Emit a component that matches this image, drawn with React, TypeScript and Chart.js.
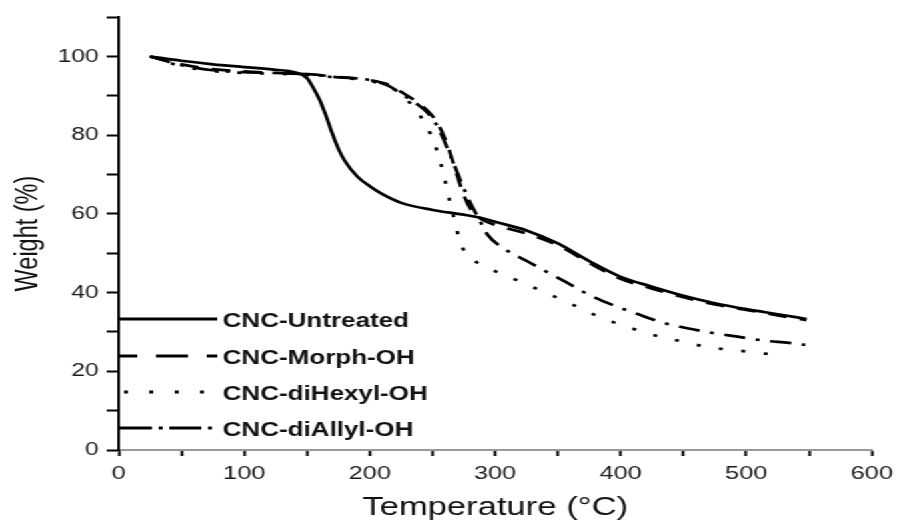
import React, { useEffect, useRef } from "react";
import { Chart, registerables } from "chart.js";

Chart.register(...registerables);

// ---- data (temperature °C, weight %) ----
const untreatedT = [25, 50, 75, 100, 125, 140, 150, 155, 160, 165, 170, 175, 180, 190, 200, 210, 225, 250, 275, 290, 300, 325, 350, 375, 400, 425, 450, 475, 500, 525, 548];
const untreatedW = [100, 98.9, 98, 97.3, 96.6, 96, 94.5, 92, 89, 85, 80.5, 76.5, 73.5, 69.5, 67, 65, 62.8, 61, 59.8, 58.9, 58, 55.8, 52.5, 48, 44, 41.5, 39.2, 37.3, 35.8, 34.5, 33.3];

const morphT = [25, 50, 75, 100, 125, 150, 175, 200, 215, 225, 235, 245, 252, 258, 264, 270, 276, 282, 290, 300, 325, 350, 375, 400, 425, 450, 475, 500, 525, 548];
const morphW = [100, 98, 96.8, 96.2, 95.8, 95.5, 94.8, 94, 92.8, 91, 89, 86.5, 84, 80.5, 75.5, 69.5, 64, 60.5, 58.5, 57.2, 55, 52, 47.5, 43.5, 41, 38.8, 37, 35.6, 34.2, 33];

const dihexylT = [25, 50, 75, 100, 125, 150, 175, 200, 215, 225, 235, 242, 248, 253, 258, 262, 265, 268, 271, 276, 283, 291, 308, 325, 343, 360, 376, 394, 413, 431, 450, 470, 490, 509, 529];
const dihexylW = [100, 97.5, 96.3, 95.8, 95.6, 95.3, 94.6, 93.8, 92.2, 90.5, 87, 84, 80.5, 76.5, 71, 65.5, 61.5, 58, 54, 50.3, 48.2, 46.7, 44.4, 42.1, 39.6, 37.2, 34.8, 32.5, 30.5, 28.8, 27.5, 26.1, 25.4, 24.7, 24];

const diallylT = [25, 50, 75, 100, 125, 150, 175, 200, 215, 225, 235, 245, 252, 258, 263, 268, 273, 281, 287, 294, 308, 326, 342, 358, 375, 394, 413, 432, 452, 472, 493, 514, 534, 547];
const diallylW = [100, 97.8, 96.5, 96, 95.8, 95.5, 94.7, 94, 92.5, 90.5, 88.5, 86, 83.2, 79.5, 75.7, 72, 68, 62.3, 58.8, 54.7, 51, 47.9, 45.1, 42.4, 39.4, 36.8, 34.6, 32.5, 31, 29.8, 28.8, 27.8, 27.2, 26.7];

const seriesLabels = ["CNC-Untreated", "CNC-Morph-OH", "CNC-diHexyl-OH", "CNC-diAllyl-OH"];

const xMin = 0;
const xMax = 600;
const yMin = 0;
const yMax = 110;

const pts = (t: number[], w: number[]) => t.map((v, i) => ({ x: v, y: w[i] }));

const FONT = '"Liberation Sans", Arial, Helvetica, sans-serif';
const CANVAS_W = 676;
const CANVAS_H = 522;
const STRETCH = 901 / CANVAS_W;

const legendStyles = [
  { dash: [] as number[], offset: 0, fromBottom: 131 },
  { dash: [24, 14], offset: 11, fromBottom: 94 },
  { dash: [3, 16], offset: 16, fromBottom: 58 },
  { dash: [24, 5, 3, 5], offset: 0, fromBottom: 22 },
];

const insideLegend = {
  id: "insideLegend",
  afterDatasetsDraw(chart: any) {
    const { ctx, chartArea } = chart;
    ctx.save();
    chart.data.datasets.forEach((ds: any, i: number) => {
      const st = legendStyles[i];
      const y = chartArea.bottom - st.fromBottom;
      ctx.strokeStyle = "#000";
      ctx.lineWidth = 2.8;
      ctx.lineCap = "butt";
      ctx.setLineDash(st.dash);
      ctx.lineDashOffset = st.offset;
      ctx.beginPath();
      ctx.moveTo(chartArea.left + 1, y);
      ctx.lineTo(chartArea.left + 74, y);
      ctx.stroke();
      ctx.setLineDash([]);
      ctx.font = `bold 19.5px ${FONT}`;
      ctx.textBaseline = "middle";
      ctx.textAlign = "left";
      ctx.fillStyle = "#111";
      ctx.fillText(ds.label, chartArea.left + 78, y + 3);
    });
    ctx.restore();
  },
};

export default function App() {
  const ref = useRef<HTMLCanvasElement | null>(null);

  useEffect(() => {
    if (!ref.current) return;
    const common = {
      borderColor: "#000",
      borderWidth: 2.7,
      pointRadius: 0,
      fill: false,
      cubicInterpolationMode: "monotone" as const,
    };
    const chart = new Chart(ref.current, {
      type: "line",
      data: {
        datasets: [
          { ...common, label: seriesLabels[0], data: pts(untreatedT, untreatedW), borderDash: [] },
          { ...common, label: seriesLabels[1], data: pts(morphT, morphW), borderDash: [14, 10] },
          { ...common, label: seriesLabels[2], data: pts(dihexylT, dihexylW), borderDash: [3, 14] },
          { ...common, label: seriesLabels[3], data: pts(diallylT, diallylW), borderDash: [16, 8, 3, 8] },
        ],
      },
      options: {
        animation: false,
        responsive: true,
        maintainAspectRatio: false,
        layout: { padding: { left: 0, right: 20, top: 14, bottom: 0 } },
        plugins: { legend: { display: false }, tooltip: { enabled: false } },
        scales: {
          x: {
            type: "linear",
            min: xMin,
            max: xMax,
            afterFit: (s: any) => { s.height = 72; },
            ticks: {
              stepSize: 50,
              autoSkip: false,
              maxRotation: 0,
              padding: 6,
              color: "#1a1a1a",
              font: { family: FONT, size: 19 },
              callback: (v: any) => (Number(v) % 100 === 0 ? String(v) : ""),
            },
            grid: { drawOnChartArea: false, drawTicks: true, tickLength: 6, tickColor: "#000", tickWidth: 2 },
            border: { display: true, color: "#9a9a9a", width: 2 },
            title: { display: true, text: "Temperature (°C)", color: "#111", font: { family: FONT, size: 26 }, padding: { top: 0, bottom: -1 } },
          },
          y: {
            type: "linear",
            min: yMin,
            max: yMax,
            afterFit: (s: any) => { s.width = 89; },
            ticks: {
              stepSize: 10,
              autoSkip: false,
              padding: 6,
              color: "#1a1a1a",
              font: { family: FONT, size: 18.5 },
              callback: (v: any) => (Number(v) % 20 === 0 && Number(v) <= 100 ? String(v) : ""),
            },
            grid: { drawOnChartArea: false, drawTicks: true, tickLength: 9, tickColor: "#000", tickWidth: 2 },
            border: { display: true, color: "#000", width: 2 },
            title: { display: true, text: "Weight (%)", color: "#111", font: { family: FONT, size: 23.5 }, padding: { top: 7, bottom: 0 } },
          },
        },
      },
      plugins: [insideLegend],
    });
    return () => chart.destroy();
  }, []);

  return (
    <div
      style={{
        position: "fixed",
        left: 0,
        top: 0,
        width: CANVAS_W,
        height: CANVAS_H,
        background: "#fff",
        transform: `scaleX(${STRETCH})`,
        transformOrigin: "0 0",
      }}
    >
      <canvas ref={ref} style={{ display: "block" }} />
    </div>
  );
}
